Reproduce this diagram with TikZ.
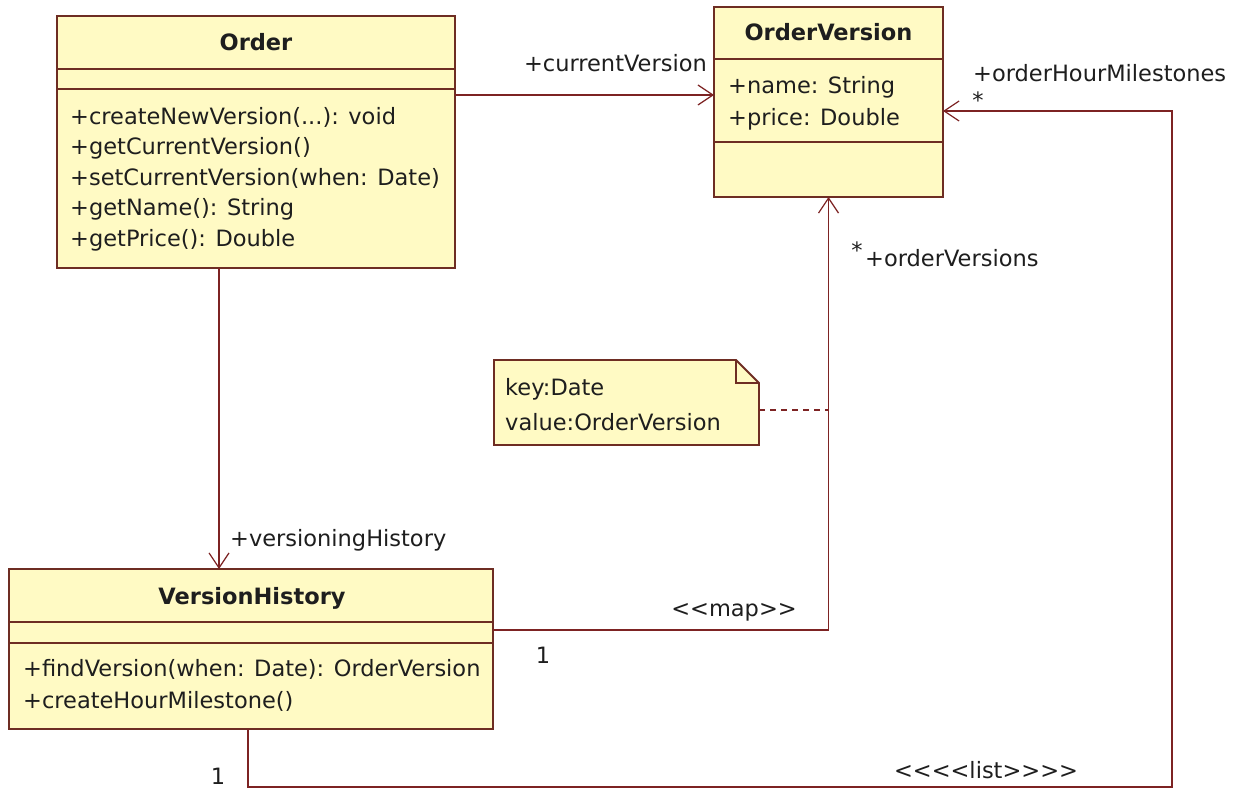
\documentclass[tikz,border=0pt]{standalone}
\usepackage{fontspec}
\setmainfont{DejaVu Sans}
\usetikzlibrary{arrows.meta}
\definecolor{classfill}{RGB}{255,250,196}
\definecolor{classline}{RGB}{110,45,35}
\definecolor{linkline}{RGB}{125,35,35}
\definecolor{ink}{RGB}{30,30,30}
% angle brackets kept apart so the font does not merge them into guillemets
\newcommand{\lt}{<\kern0pt}
\newcommand{\gt}{>\kern0pt}
\tikzset{
  umlbox/.style={draw=classline, fill=classfill, line width=1.8pt, inner sep=0pt, outer sep=0pt, anchor=north west},
  divider/.style={draw=classline, line width=1.8pt},
  txt/.style={inner sep=0pt, text=ink, font=\fontsize{22.5}{27}\selectfont, text height=16.6pt, text depth=0pt},
  member/.style={txt, anchor=west},
  classname/.style={txt, font=\fontsize{22.5}{27}\selectfont\bfseries},
  assoc/.style={draw=linkline, line width=1.5pt, -{Straight Barb[length=15pt,width=20pt,line width=1.2pt]}},
  notelink/.style={draw=linkline, line width=1.5pt, dash pattern=on 6pt off 5pt},
}
\begin{document}
\begin{tikzpicture}[x=1pt,y=-1pt]
\useasboundingbox[fill=white] (0,0) rectangle (1237,791);

% ---- class Order ----
\node[umlbox, minimum width=398pt, minimum height=252pt] (order) at (57,16) {};
\draw[divider] ([yshift=-53pt]order.north west) -- ([yshift=-53pt]order.north east);
\draw[divider] ([yshift=-73pt]order.north west) -- ([yshift=-73pt]order.north east);
\node[classname] (orderT) at (256,42) {Order};
\node[member] (om1) at (70,116) {+createNewVersion(...): void};
\node[member] (om2) at (70,146.5) {+getCurrentVersion()};
\node[member] (om3) at (70,177) {+setCurrentVersion(when: Date)};
\node[member] (om4) at (70,207.5) {+getName(): String};
\node[member] (om5) at (70,238) {+getPrice(): Double};

% ---- class OrderVersion ----
\node[umlbox, minimum width=229pt, minimum height=190pt] (ov) at (714,7) {};
\draw[divider] ([yshift=-52pt]ov.north west) -- ([yshift=-52pt]ov.north east);
\draw[divider] ([yshift=-135pt]ov.north west) -- ([yshift=-135pt]ov.north east);
\node[classname] (ovT) at (828.5,32) {OrderVersion};
\node[member] (oa1) at (728,85) {+name: String};
\node[member] (oa2) at (728,117) {+price: Double};

% ---- class VersionHistory ----
\node[umlbox, minimum width=484pt, minimum height=160pt] (vh) at (9,569) {};
\draw[divider] ([yshift=-53pt]vh.north west) -- ([yshift=-53pt]vh.north east);
\draw[divider] ([yshift=-74pt]vh.north west) -- ([yshift=-74pt]vh.north east);
\node[classname] (vhT) at (252,596) {VersionHistory};
\node[member] (vm1) at (23,668) {+findVersion(when: Date): OrderVersion};
\node[member] (vm2) at (23,700) {+createHourMilestone()};

% ---- note on the map association ----
\node[inner sep=0pt, outer sep=0pt, minimum width=265pt, minimum height=85pt, anchor=north west] (note) at (494,360) {};
\draw[classline, fill=classfill, line width=1.8pt]
  (note.north west) -- ([xshift=-23pt]note.north east) -- ([yshift=-23pt]note.north east)
  -- (note.south east) -- (note.south west) -- cycle;
\draw[classline, line width=1.4pt]
  ([xshift=-23pt]note.north east) |- ([yshift=-23pt]note.north east);
\node[member] (nk) at (505,387) {key:Date};
\node[member] (nv) at (505,422) {value:OrderVersion};

% ---- associations ----
\draw[assoc] ([yshift=-79pt]order.north east) -- ([yshift=-88pt]ov.north west);
\draw[assoc] ([xshift=162pt]order.south west) -- ([xshift=210pt]vh.north west);
\draw[assoc] ([yshift=-61pt]vh.north east) -| (ov.south);
\coordinate (listcorner) at (1172,787);
\draw[assoc] ([xshift=239pt]vh.south west) |- (listcorner) |- ([yshift=-104pt]ov.north east);
\coordinate (notefoot) at ([yshift=-50pt]note.north east);
\draw[notelink] (notefoot) -- (notefoot -| ov.south);

% ---- role names, multiplicities, stereotypes ----
\node[txt, anchor=east] (lcv) at (707,63) {+currentVersion};
\node[txt, anchor=west] (lvh) at (230,538) {+versioningHistory};
\node[txt] (lmap) at (734,608) {\lt\lt map\gt\gt};
\node[txt] (m1a) at (543,655) {1};
\node[txt] (mstar1) at (857,250) {*};
\node[txt, anchor=west] (lov) at (865,258) {+orderVersions};
\node[txt, anchor=west] (lohm) at (973,73) {+orderHourMilestones};
\node[txt] (mstar2) at (978,100) {*};
\node[txt] (llist) at (986,770) {\lt\lt\lt\lt list\gt\gt\gt\gt};
\node[txt] (m1b) at (218,776) {1};
\end{tikzpicture}
\end{document}
